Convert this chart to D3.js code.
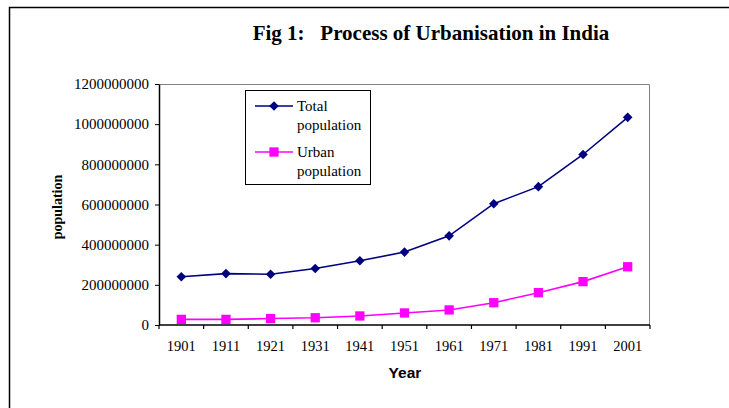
<!DOCTYPE html>
<html>
<head>
<meta charset="utf-8">
<script src="https://cdn.jsdelivr.net/npm/d3@7"></script>
<style>
  body { margin: 0; background: #fff; }
  svg { display: block; }
</style>
</head>
<body>
<svg id="chart" width="729" height="408"></svg>
<script>
// census years and population
var years = ["1901", "1911", "1921", "1931", "1941", "1951", "1961", "1971", "1981", "1991", "2001"];
var totalPop = [240e6, 256e6, 253e6, 281e6, 320e6, 363e6, 444e6, 604e6, 689e6, 849e6, 1034e6];
var urbanPop = [28e6, 28e6, 32e6, 36e6, 45e6, 60e6, 75e6, 111e6, 161e6, 216e6, 290e6];
var yTicks = [0, 200000000, 400000000, 600000000, 800000000, 1000000000, 1200000000];

var margin = {top: 84, right: 79, bottom: 83, left: 159},
    width = 729 - margin.left - margin.right,
    height = 408 - margin.top - margin.bottom;

var svg = d3.select("#chart");
var serif = "'Liberation Serif', 'Times New Roman', serif";

// outer frame
svg.append("rect")
    .attr("x", 9.5).attr("y", 7.5)
    .attr("width", 740).attr("height", 420)
    .attr("fill", "none").attr("stroke", "#000").attr("stroke-width", 1.5);

svg.append("text")
    .attr("x", 431).attr("y", 40)
    .attr("text-anchor", "middle")
    .style("font-family", serif)
    .style("font-weight", "bold")
    .style("font-size", "21px")
    .attr("xml:space", "preserve")
    .text("Fig 1:   Process of Urbanisation in India");

var g = svg.append("g")
    .attr("transform", "translate(" + margin.left + "," + margin.top + ")");

var x = d3.scaleBand().domain(years).range([0, width]);
var y = d3.scaleLinear().domain([0, 1200000000]).range([height, 0]);

// plot area border (top / right)
g.append("path")
    .attr("d", "M0,0.5H" + (width - 0.5) + "V" + height)
    .attr("fill", "none").attr("stroke", "#808080").attr("stroke-width", 1);

// y axis
var yAxis = g.append("g")
    .call(d3.axisLeft(y).tickValues(yTicks).tickSize(4).tickSizeOuter(0).tickFormat(d3.format("d")));
yAxis.select(".domain").attr("stroke", "#000").attr("stroke-width", 1.5);
yAxis.selectAll("text")
    .attr("x", -10)
    .style("font-family", serif)
    .style("font-size", "15px")
    .attr("fill", "#000");

// x axis: ticks sit between categories
var xAxis = g.append("g")
    .attr("transform", "translate(0," + height + ")");
xAxis.append("line")
    .attr("x1", 0).attr("x2", width)
    .attr("stroke", "#000").attr("stroke-width", 1.5);
xAxis.selectAll(".tk")
    .data(d3.range(years.length + 1))
    .enter().append("line")
    .attr("x1", function(i) { return i * x.step(); })
    .attr("x2", function(i) { return i * x.step(); })
    .attr("y1", 0).attr("y2", 4)
    .attr("stroke", "#000").attr("stroke-width", 1.2);
xAxis.selectAll(".lbl")
    .data(years)
    .enter().append("text")
    .attr("x", function(d) { return x(d) + x.bandwidth() / 2; })
    .attr("y", 26)
    .attr("text-anchor", "middle")
    .style("font-family", serif)
    .style("font-size", "14.5px")
    .text(function(d) { return d; });

// axis titles
svg.append("text")
    .attr("x", 405).attr("y", 378)
    .attr("text-anchor", "middle")
    .style("font-family", "'Liberation Sans', Arial, sans-serif")
    .style("font-weight", "bold")
    .style("font-size", "15.5px")
    .text("Year");

svg.append("text")
    .attr("transform", "translate(62,207) rotate(-90)")
    .attr("text-anchor", "middle")
    .style("font-family", serif)
    .style("font-weight", "bold")
    .style("font-size", "14px")
    .text("population");

var cx = function(d, i) { return x(years[i]) + x.bandwidth() / 2; };
var diamond = d3.symbol().type(d3.symbolSquare).size(46);
var square = d3.symbol().type(d3.symbolSquare).size(86);

function drawSeries(vals, color, isDiamond) {
    var line = d3.line()
        .x(function(d, i) { return cx(d, i); })
        .y(function(d) { return y(d); });
    g.append("path")
        .datum(vals)
        .attr("d", line)
        .attr("fill", "none")
        .attr("stroke", color)
        .attr("stroke-width", 1.6);
    g.append("g").selectAll("path")
        .data(vals)
        .enter().append("path")
        .attr("transform", function(d, i) {
            return "translate(" + cx(d, i) + "," + y(d) + ")" + (isDiamond ? " rotate(45)" : "");
        })
        .attr("d", isDiamond ? diamond : square)
        .attr("fill", color);
}

drawSeries(totalPop, "#000080", true);
drawSeries(urbanPop, "#FF00FF", false);

// legend
var leg = svg.append("g");
leg.append("rect")
    .attr("x", 245.5).attr("y", 90.5)
    .attr("width", 125).attr("height", 94)
    .attr("fill", "#fff").attr("stroke", "#000").attr("stroke-width", 1);

var legItems = [
    {lines: ["Total", "population"], color: "#000080", isDiamond: true, y: 106},
    {lines: ["Urban", "population"], color: "#FF00FF", isDiamond: false, y: 152}
];
legItems.forEach(function(it) {
    leg.append("line")
        .attr("x1", 255).attr("x2", 293)
        .attr("y1", it.y).attr("y2", it.y)
        .attr("stroke", it.color).attr("stroke-width", 1.5);
    leg.append("path")
        .attr("transform", "translate(274," + it.y + ")" + (it.isDiamond ? " rotate(45)" : ""))
        .attr("d", it.isDiamond ? diamond : square)
        .attr("fill", it.color);
    it.lines.forEach(function(t, k) {
        leg.append("text")
            .attr("x", 297).attr("y", it.y + 5 + k * 19)
            .style("font-family", serif)
            .style("font-size", "15px")
            .text(t);
    });
});
</script>
</body>
</html>
